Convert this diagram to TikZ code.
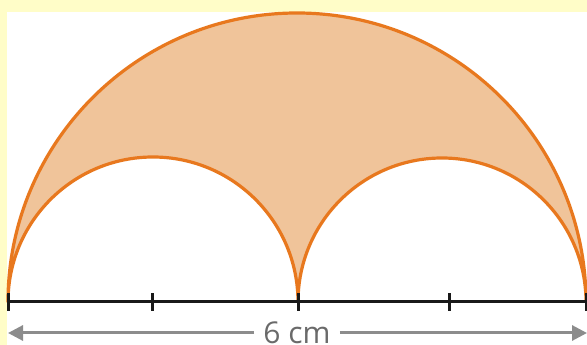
\documentclass[tikz,border=0pt]{standalone}
\usepackage{fontspec}
\setmainfont{Open Sans}
\usetikzlibrary{arrows.meta}
\definecolor{bgyellow}{HTML}{FFFDC8}
\definecolor{arcorange}{HTML}{E8781E}
\definecolor{arcfill}{HTML}{F0C49A}
\definecolor{arrowgray}{HTML}{8C8C8C}
\definecolor{textgray}{HTML}{6A6A6A}
\tikzset{
  arcline/.style={draw=arcorange, line width=3.2pt, line join=round},
  baseline/.style={draw=black!90, line width=3pt},
  tickmark/.style={draw=black!90, line width=3pt},
  measure/.style={draw=arrowgray, line width=3pt, -{Triangle[length=15pt,width=15pt]}},
  measurelabel/.style={text=textgray, font=\fontsize{30}{30}\selectfont, inner sep=0pt, anchor=base}
}
\begin{document}
\begin{tikzpicture}[x=1pt,y=1pt]
\useasboundingbox (0,0) rectangle (587,345);
\fill[bgyellow] (0,0) rectangle (587,345);
\fill[white] (7,0) rectangle (587,333);
% shaded region
\path[arcline, fill=arcfill]
  (8,43) arc[start angle=180, end angle=0, radius=289]
  arc[start angle=0, end angle=180, radius=144]
  arc[start angle=0, end angle=180, radius=145] -- cycle;
% baseline with ticks
\coordinate (A) at (8,43);
\coordinate (B) at (586,43);
\draw[baseline] (A) -- (B);
\foreach \x in {8,152,298,449,586}
  \draw[tickmark] (\x,34) -- (\x,52);
% measure arrow
\node[measurelabel] (lbl) at (297,1) {6 cm};
\coordinate (L) at (8,12);
\coordinate (R) at (587,12);
\draw[measure] (lbl.west |- L) ++(-9,0) -- (L);
\draw[measure] (lbl.east |- R) ++(9,0) -- (R);
\end{tikzpicture}
\end{document}
